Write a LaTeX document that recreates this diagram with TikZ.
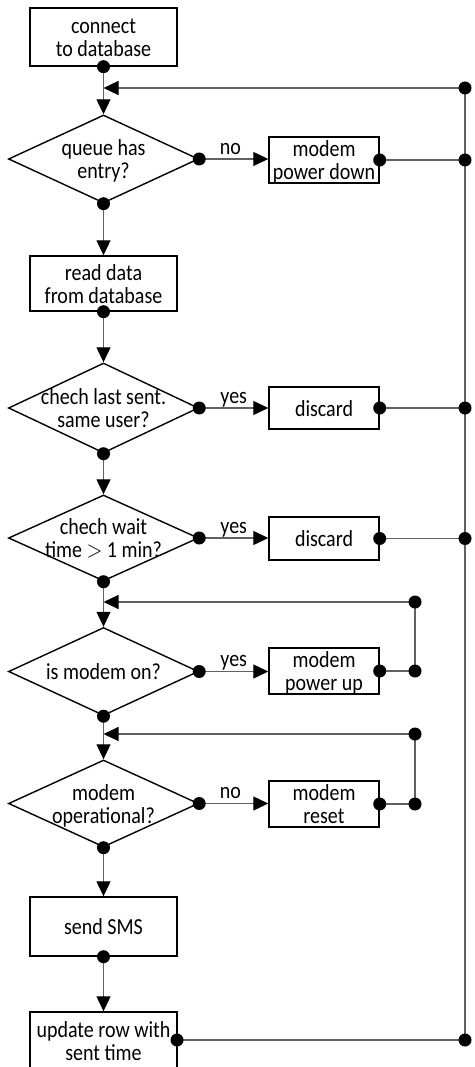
\documentclass[tikz,border=0pt]{standalone}
\usepackage{fontspec}
\usepackage{graphicx}
\setmainfont{Carlito}
\usetikzlibrary{arrows.meta,shapes.geometric}
\newcommand{\stxt}[1]{\raisebox{-3.5pt}[\height][\depth]{\scalebox{1}[1.15]{\begin{tabular}{@{}c@{}}#1\end{tabular}}}}
\begin{document}
\begin{tikzpicture}[x=1pt,y=-1pt,
  lbl/.style={font=\fontsize{20}{20}\selectfont,text=black},
  box/.style={draw=black,line width=1.4pt,rectangle,inner sep=0pt,lbl},
  sidebox/.style={box,minimum width=110pt,minimum height=44pt},
  mainbox/.style={box,minimum width=147pt},
  dia/.style={draw=black,line width=1.4pt,diamond,inner sep=0pt,minimum width=190pt,minimum height=88pt},
  txt/.style={inner sep=0pt,lbl},
  dot/.style={circle,fill=black,inner sep=0pt,minimum size=13pt},
  conn/.style={draw=black!62,line width=1.1pt},
  arr/.style={conn,-{Triangle[length=15pt,width=14pt,color=black]}},
  elabel/.style={lbl,above,inner sep=0pt,yshift=1pt}
]
\useasboundingbox (0,0) rectangle (474,1067);
\clip (0,0) rectangle (474,1067);

% main column
\node[mainbox,minimum height=58pt] (b1) at (103.5,37) {\stxt{connect\\to database}};
\node[dia] (d1) at (103.5,159) {};
\node[txt] (t1) at (d1.center) {\stxt{queue has\\entry?}};
\node[mainbox,minimum height=55pt] (b2) at (103.5,283.5) {\stxt{read data\\from database}};
\node[dia,minimum height=90pt] (d2) at (103.5,408) {};
\node[txt] (t2) at (d2.center) {\stxt{chech last sent.\\same user?}};
\node[dia,minimum height=86pt] (d3) at (103.5,538) {};
\node[txt] (t3) at (d3.center) {\stxt{chech wait\\time $>$ 1 min?}};
\node[dia] (d4) at (103.5,671.5) {};
\node[txt] (t4) at (d4.center) {\stxt{is modem on?}};
\node[dia,minimum height=87pt] (d5) at (103.5,803.5) {};
\node[txt] (t5) at (d5.center) {\stxt{modem\\operational?}};
\node[mainbox,minimum height=59pt] (b3) at (103.5,926.5) {\stxt{send SMS}};
\node[mainbox,minimum height=58pt] (b4) at (103.5,1041) {\stxt{update row with\\sent time}};

% side boxes
\node[sidebox] (s1) at (324,160) {\stxt{modem\\power down}};
\node[sidebox,minimum height=42pt] (s2) at (324,408) {\stxt{discard}};
\node[sidebox,minimum height=43pt] (s3) at (324,538.5) {\stxt{discard}};
\node[sidebox] (s4) at (324,671) {\stxt{modem\\power up}};
\node[sidebox] (s5) at (324,804) {\stxt{modem\\reset}};

% junction points on right
\coordinate (r0) at (465,88);
\coordinate (r1) at (465,160);
\coordinate (r2) at (465,408);
\coordinate (r3) at (465,538.5);
\coordinate (r4) at (465,1040);
\coordinate (q1a) at (415,602);
\coordinate (q1b) at (415,671);
\coordinate (q2a) at (415,734);
\coordinate (q2b) at (415,804);
\coordinate (j0) at (103.5,88);
\coordinate (j1) at (103.5,602);
\coordinate (j2) at (103.5,734);
\coordinate (e4) at (177,1040);

% main flow
\draw[arr] (b1.south) -- (d1.north);
\draw[arr] (d1.south) -- (b2.north);
\draw[arr] (b2.south) -- (d2.north);
\draw[arr] (d2.south) -- (d3.north);
\draw[arr] (d3.south) -- (d4.north);
\draw[arr] (d4.south) -- (d5.north);
\draw[arr] (d5.south) -- (b3.north);
\draw[arr] (b3.south) -- (b4.north);

% branches
\draw[arr] (d1.east) -- node[elabel,pos=0.45] {\stxt{no}} (d1.east -| s1.west);
\draw[arr] (d2.east) -- node[elabel] {\stxt{yes}} (d2.east -| s2.west);
\draw[arr] (d3.east) -- node[elabel] {\stxt{yes}} (d3.east -| s3.west);
\draw[arr] (d4.east) -- node[elabel] {\stxt{yes}} (d4.east -| s4.west);
\draw[arr] (d5.east) -- node[elabel,pos=0.45] {\stxt{no}} (d5.east -| s5.west);

% returns to top
\draw[conn] (r0) -- (r4);
\draw[arr] (r0) -- (j0);
\draw[conn] (s1.east) -- (r1);
\draw[conn] (s2.east) -- (r2);
\draw[conn] (s3.east) -- (r3);
\draw[conn] (e4) -- (r4);

% local loops
\draw[conn] (s4.east) -- (q1b) -- (q1a);
\draw[arr] (q1a) -- (j1);
\draw[conn] (s5.east) -- (q2b) -- (q2a);
\draw[arr] (q2a) -- (j2);

% dots
\foreach \p in {b1.south,d1.east,d1.south,b2.south,d2.east,d2.south,d3.east,d3.south,d4.east,d4.south,d5.east,d5.south,b3.south,s1.east,s2.east,s3.east,s4.east,s5.east,r0,r1,r2,r3,r4,q1a,q1b,q2a,q2b,e4}
  \node[dot] at (\p) {};
\end{tikzpicture}
\end{document}
